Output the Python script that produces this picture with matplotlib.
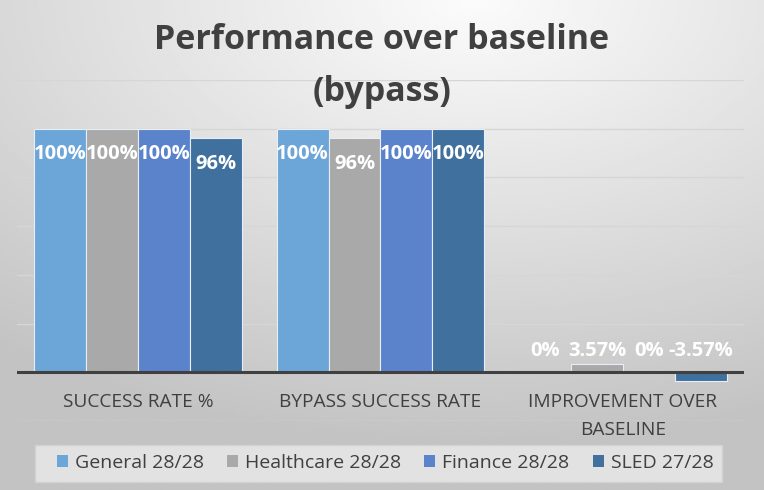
import numpy as np
import matplotlib
matplotlib.use("Agg")
import matplotlib.pyplot as plt
import matplotlib.transforms as mtransforms
from matplotlib.patches import Patch, Rectangle

categories = ["SUCCESS RATE %", "BYPASS SUCCESS RATE", "IMPROVEMENT OVER\nBASELINE"]
series = ["General 28/28", "Healthcare 28/28", "Finance 28/28", "SLED 27/28"]
general = [1.00, 1.00, 0.0]
healthcare = [1.00, 0.96, 0.0357]
finance = [1.00, 1.00, 0.0]
sled = [0.96, 1.00, -0.0357]
labels = [["100%", "100%", "0%"], ["100%", "96%", "3.57%"], ["100%", "100%", "0%"], ["96%", "100%", "-3.57%"]]
colors = ["#6CA5D8", "#A9A9A9", "#5B83CC", "#40709E"]

plt.rcParams['font.family'] = ['Open Sans', 'DejaVu Sans']

W, H = 764, 490
fig = plt.figure(figsize=(W/100, H/100), dpi=100)

# background gradient
bg = fig.add_axes([0, 0, 1, 1], zorder=-10)
yy, xx = np.mgrid[0:1:200j, 0:1:300j]
r = np.sqrt(((xx - 0.62) * 1.0) ** 2 + ((yy - 0.0) * 1.1) ** 2)
img = 0.985 - 0.22 * np.clip(r, 0, 1.0)
bg.imshow(img, cmap='gray', vmin=0, vmax=1, aspect='auto', extent=[0, 1, 1, 0])
bg.set_xlim(0, 1)
bg.set_ylim(1, 0)
bg.set_axis_off()
# legend frame
bg.add_patch(Rectangle((35/W, 445/H), (722-35)/W, (482-445)/H, facecolor='#e2e2e2',
                       edgecolor='#d2d2d2', linewidth=1.0, zorder=2))

ax = fig.add_axes([17/W, (H-421)/H, (744-17)/W, (421-80)/H])
ax.set_facecolor('none')
values = [general, healthcare, finance, sled]
x = np.arange(len(categories))
w = 0.2145
for i, (vals, c) in enumerate(zip(values, colors)):
    pos = x + (i - 1.5) * w
    ax.bar(pos, vals, width=w, color=c, edgecolor='#e8eef5', linewidth=0.8, zorder=3)
    for j, v in enumerate(vals):
        if j < 2:
            ypos = v - 0.124
        else:
            ypos = 0.066
        ax.text(pos[j], ypos, labels[i][j], ha='center', va='baseline', color='white',
                fontsize=14.5, fontweight='bold', zorder=5)

ax.set_xlim(-0.5, 2.5)
ax.set_ylim(-0.2, 1.2)
ax.set_yticks(np.arange(-0.2, 1.21, 0.2))
ax.yaxis.grid(True, color='#d6d6d6', linewidth=1.0, zorder=0)
ax.tick_params(left=False, labelleft=False, bottom=False, labelbottom=False)
for s in ax.spines.values():
    s.set_visible(False)
ax.axhline(0, color='#404040', linewidth=2.2, zorder=4)

tr = mtransforms.blended_transform_factory(ax.transData, fig.transFigure)
for j, cat in enumerate(categories):
    for k, line in enumerate(cat.split("\n")):
        ax.text(x[j], (H - 407 - 28 * k) / H, line, transform=tr, ha='center', va='baseline',
                color='#404040', fontsize=13.8, zorder=5)

fig.text(0.5, (H - 49) / H, "Performance over baseline", ha='center', va='baseline',
         fontsize=24.5, fontweight='bold', color='#404040')
fig.text(0.5, (H - 101) / H, "(bypass)", ha='center', va='baseline',
         fontsize=24.5, fontweight='bold', color='#404040')

handles = [Patch(facecolor=c, edgecolor='none') for c in colors]
leg = fig.legend(handles, series, loc='center', bbox_to_anchor=(385/W, (H-463)/H), ncol=4,
                 frameon=False, fontsize=14, handlelength=0.57, handleheight=0.55,
                 handletextpad=0.35, columnspacing=1.2, borderpad=0.4, borderaxespad=0,
                 labelcolor='#404040')

fig.savefig("out.png", dpi=100)
